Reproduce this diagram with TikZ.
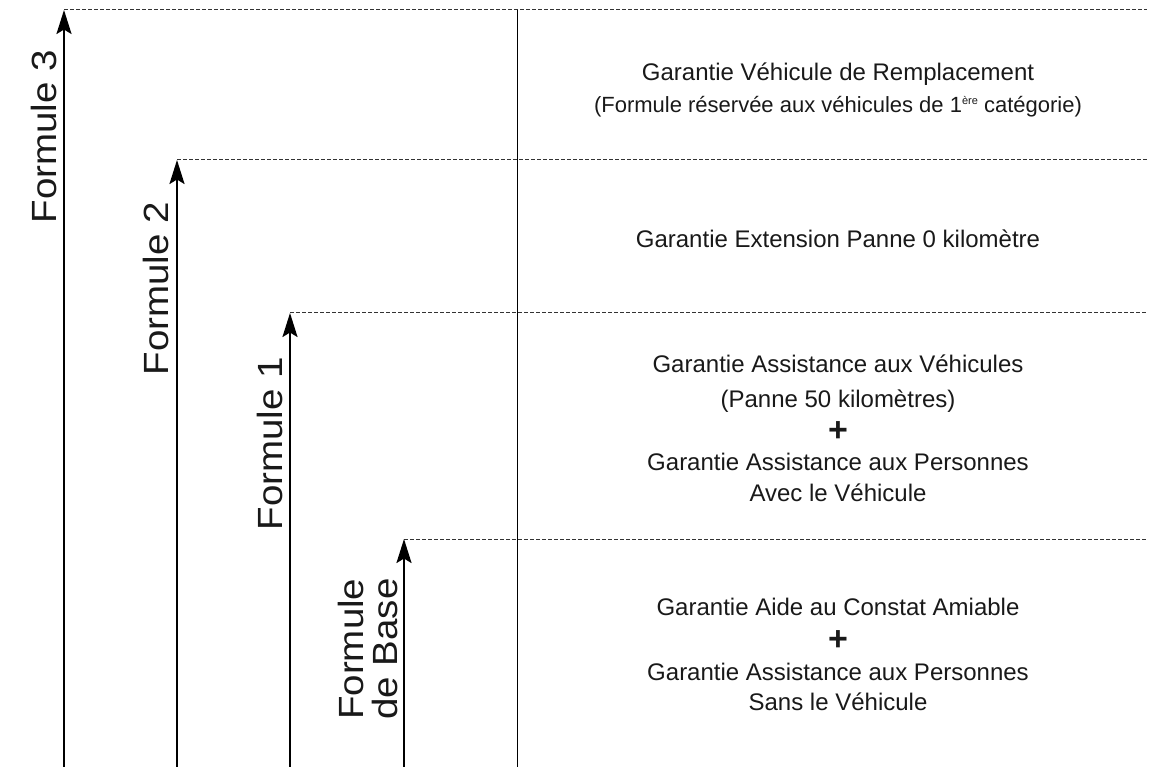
\documentclass[tikz,border=0pt]{standalone}
\usepackage{fontspec}
\setmainfont{Liberation Sans}
\newfontfamily\labelfont[FakeStretch=1.1]{Liberation Sans}
\usetikzlibrary{arrows.meta}
\begin{document}
\begin{tikzpicture}[x=1pt,y=-1pt,
  uparrow/.style={line width=2.2pt, -{Stealth[length=24pt,width=15pt,inset=4.5pt]}},
  levelline/.style={line width=1pt, black!80, dash pattern=on 3.5pt off 2.5pt},
  sepline/.style={line width=1pt},
  formlabel/.style={rotate=90, anchor=base east, inner sep=0pt, text=black!90, font=\labelfont\fontsize{35}{35}\selectfont},
  baselabel/.style={rotate=90, anchor=base west, inner sep=0pt, text=black!90, font=\labelfont\fontsize{35}{35}\selectfont},
  garline/.style={anchor=base, inner sep=0pt, text=black!90, font=\fontsize{24}{24}\selectfont},
  garsmall/.style={anchor=base, inner sep=0pt, text=black!90, font=\fontsize{22}{22}\selectfont},
  plussign/.style={anchor=center, inner sep=0pt, text=black!90, font=\bfseries\fontsize{34}{34}\selectfont}]
\useasboundingbox (0,0) rectangle (1149,767);

% arrow bottoms and tips
\coordinate (b3) at (64,767);   \coordinate (t3) at (64,10);
\coordinate (b2) at (177,767);  \coordinate (t2) at (177,160);
\coordinate (b1) at (290,767);  \coordinate (t1) at (290,313);
\coordinate (b0) at (404,767);  \coordinate (t0) at (404,539);
% dashed line ends
\coordinate (e3) at (1147,10);
\coordinate (e2) at (1147,160);
\coordinate (e1) at (1147,313);
\coordinate (e0) at (1147,539);
% separator
\coordinate (sepTop) at (517,10);
\coordinate (sepBot) at (517,767);

\draw[levelline] (t3) -- (e3);
\draw[levelline] (t2) -- (e2);
\draw[levelline] (t1) -- (e1);
\draw[levelline] (t0) -- (e0);
\draw[sepline] (sepTop) -- (sepBot);

\draw[uparrow] (b3) -- (t3);
\draw[uparrow] (b2) -- (t2);
\draw[uparrow] (b1) -- (t1);
\draw[uparrow] (b0) -- (t0);

% left labels
\node[formlabel] (f3) at (56,50) {Formule 3};
\node[formlabel] (f2) at (168,202) {Formule 2};
\node[formlabel] (f1) at (282,357) {Formule 1};
\node[baselabel] (fb1) at (363,720) {Formule};
\node[baselabel] (fb2) at (397,720) {de Base};

% right texts
\node[garline] (g31) at (838,81) {Garantie Véhicule de Remplacement};
\node[garsmall] (g32) at (838,113) {(Formule réservée aux véhicules de 1\raisebox{0.75ex}{\fontsize{11}{11}\selectfont ère} catégorie)};

\node[garline] (g21) at (838,248) {Garantie Extension Panne 0 kilomètre};

\node[garline] (g11) at (838,373) {Garantie Assistance aux Véhicules};
\node[garline] (g12) at (838,407) {(Panne 50 kilomètres)};
\node[plussign] (p1) at (838,432) {+};
\node[garline] (g13) at (838,470) {Garantie Assistance aux Personnes};
\node[garline] (g14) at (838,501) {Avec le Véhicule};

\node[garline] (g01) at (838,615) {Garantie Aide au Constat Amiable};
\node[plussign] (p0) at (838,641) {+};
\node[garline] (g03) at (838,680) {Garantie Assistance aux Personnes};
\node[garline] (g04) at (838,710) {Sans le Véhicule};
\end{tikzpicture}
\end{document}
